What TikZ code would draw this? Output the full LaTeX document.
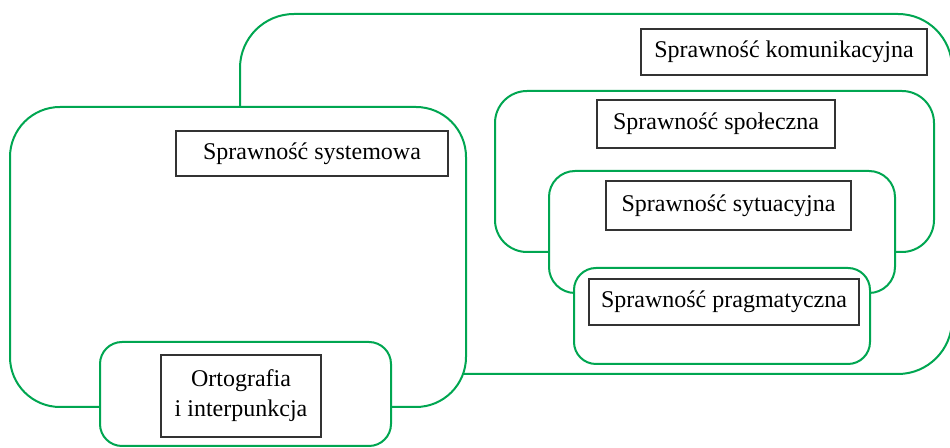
\documentclass[tikz,border=0pt]{standalone}
\usepackage{fontspec}
\setmainfont{Liberation Serif}
\usepackage{xcolor}
\usepackage{tikz}
\definecolor{zielony}{RGB}{0,166,81}
\begin{document}
\begin{tikzpicture}[x=0.5pt,y=-0.5pt,
  wstega/.style={draw=zielony,line width=1pt,fill=white},
  ramka/.style={draw=black!80,line width=0.7pt,fill=white,inner sep=0pt,font=\fontsize{12}{15}\selectfont}]
\clip(0,0)rectangle(950,448);
\draw[wstega,rounded corners=27pt](240,14)rectangle(952,374);
\draw[wstega,rounded corners=16pt](495,91)rectangle(934,252);
\draw[wstega,rounded corners=13pt](549,171)rectangle(895,293);
\draw[wstega,rounded corners=11pt](574,268)rectangle(870,364);
\draw[wstega,rounded corners=25pt](10,107)rectangle(466,407);
\draw[wstega,rounded corners=11pt](100,342)rectangle(391,446);
\node[ramka,minimum width=143pt,minimum height=23pt](kom)at(784,52){Sprawność komunikacyjna};
\node[ramka,minimum width=119pt,minimum height=24pt](spo)at(716,124){Sprawność społeczna};
\node[ramka,minimum width=122.5pt,minimum height=24.5pt](syt)at(728.5,205.5){Sprawność sytuacyjna};
\node[ramka,minimum width=135pt,minimum height=23pt](prag)at(724,302){Sprawność pragmatyczna};
\node[ramka,minimum width=136pt,minimum height=22.5pt](sys)at(312,153.5){Sprawność systemowa};
\node[ramka,minimum width=80pt,minimum height=41pt,align=center](ort)at(241,396){Ortografia\\i interpunkcja};
\end{tikzpicture}
\end{document}
